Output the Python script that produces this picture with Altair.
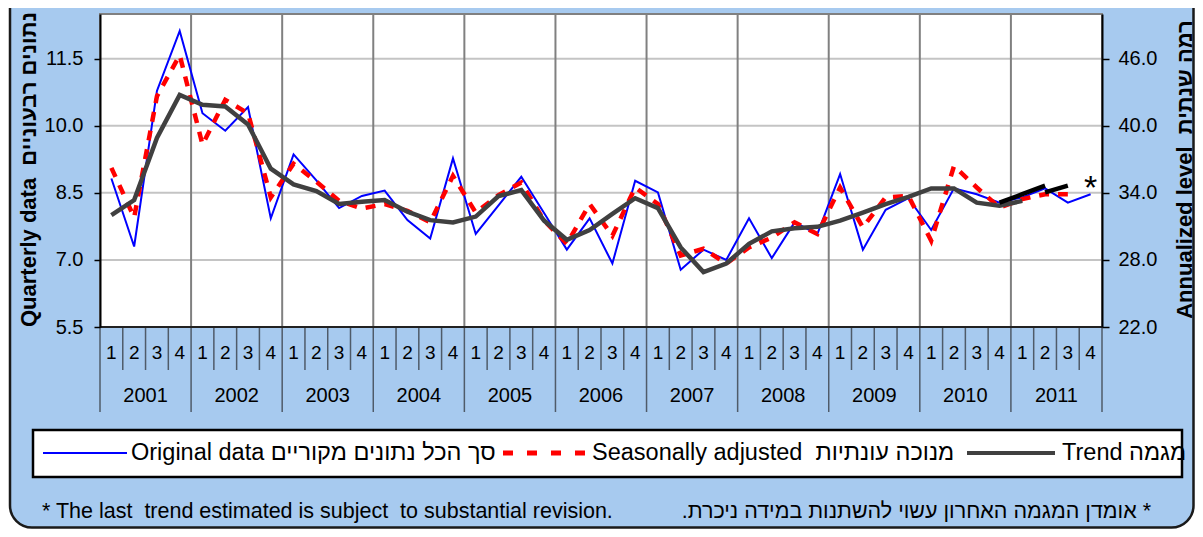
import altair as alt
import pandas as pd

# ---------------- data ----------------
years = [2001, 2002, 2003, 2004, 2005, 2006, 2007, 2008, 2009, 2010, 2011]
quarters = ["1", "2", "3", "4"]

original = [8.82, 7.30, 10.78, 12.12,
            10.28, 9.89, 10.42, 7.93,
            9.36, 8.78, 8.16, 8.43,
            8.55, 7.89, 7.48, 9.27,
            7.58, 8.22, 8.86, 8.05,
            7.23, 7.93, 6.92, 8.77,
            8.51, 6.78, 7.23, 7.00,
            7.93, 7.04, 7.84, 7.58,
            8.92, 7.23, 8.12, 8.38,
            7.67, 8.60, 8.47, 8.28,
            8.40, 8.60, 8.28, 8.47]

seasonal = [9.06, 7.95, 10.66, 11.58,
            9.58, 10.58, 10.28, 8.40,
            9.15, 8.75, 8.32, 8.15,
            8.25, 8.10, 7.84, 8.88,
            8.06, 8.45, 8.73, 7.88,
            7.36, 8.25, 7.54, 8.62,
            8.25, 7.10, 7.25, 6.92,
            7.28, 7.50, 7.84, 7.58,
            8.62, 7.73, 8.40, 8.43,
            7.43, 9.10, 8.62, 8.17,
            8.36, 8.47, 8.47, None]

trend = [8.00, 8.34, 9.73, 10.69,
         10.47, 10.43, 10.03, 9.04,
         8.69, 8.54, 8.25, 8.30,
         8.34, 8.08, 7.89, 7.84,
         7.97, 8.43, 8.56, 7.88,
         7.45, 7.67, 8.03, 8.38,
         8.16, 7.28, 6.73, 6.92,
         7.36, 7.64, 7.71, 7.74,
         7.88, 8.06, 8.25, 8.41,
         8.60, 8.60, 8.28, 8.21,
         8.32, None, None, None]

rev1_keys = ["2010Q4", "2011Q1", "2011Q2"]
rev1_vals = [8.28, 8.47, 8.66]
rev2_keys = ["2011Q2", "2011Q3"]
rev2_vals = [8.51, 8.66]

star_key = "2011Q4"
star_val = 8.66

left_ticks = [5.5, 7.0, 8.5, 10.0, 11.5]
right_ticks = [22.0, 28.0, 34.0, 40.0, 46.0]
grid_ticks = [7.0, 8.5, 10.0, 11.5]

NB = "\u00a0"
left_title = "Quarterly data" + NB + " נתונים רבעוניים"
right_title = "Annualized level" + NB + " רמה שנתית"
legend_texts = ["Original data סך הכל נתונים מקוריים",
                "Seasonally adjusted" + NB + " מנוכה עונתיות",
                "Trend מגמה"]
foot_en = "* The last" + NB + " trend estimated is subject" + NB + " to substantial revision."
foot_he = "\u200f* אומדן המגמה האחרון עשוי להשתנות במידה ניכרת.\u200f"

# ---------------- tables ----------------
keys = [f"{y}Q{q}" for y in years for q in quarters]
pos_of = {k: i + 0.5 for i, k in enumerate(keys)}

df = pd.DataFrame({
    "key": keys,
    "pos": [pos_of[k] for k in keys],
    "quarter": [q for y in years for q in quarters],
    "original": original,
    "seasonal": seasonal,
    "trend": trend,
})
rev1 = pd.DataFrame({"pos": [pos_of[k] for k in rev1_keys], "v": rev1_vals})
rev2 = pd.DataFrame({"pos": [pos_of[k] for k in rev2_keys], "v": rev2_vals})
star = pd.DataFrame({"pos": [pos_of[star_key]], "v": [star_val]})
years_df = pd.DataFrame({"year": [str(y) for y in years],
                         "center": [4 * i + 2 for i in range(len(years))]})
year_bounds = pd.DataFrame({"b": [4 * i for i in range(len(years) + 1)]})
quarter_bounds = pd.DataFrame({"b": [i for i in range(len(keys) + 1) if i % 4 != 0]})
grid_df = pd.DataFrame({"g": grid_ticks})
left_df = pd.DataFrame({"l": left_ticks})
right_df = pd.DataFrame({"r": [t / 4 for t in right_ticks]})
one = pd.DataFrame({"a": [0]})

FONT = "Liberation Sans"
W, H = 1002, 313
BG = "#A7CAEF"

xs = alt.Scale(domain=[0, 44], nice=False, zero=False)
ys = alt.Scale(domain=[5.5, 12.5], nice=False, zero=False)

def X(field):
    return alt.X(field, type="quantitative", scale=xs, axis=None)

def Y(field, axis=None):
    return alt.Y(field, type="quantitative", scale=ys, axis=axis)

base = alt.Chart(df)

bg = alt.Chart(one).mark_rect(
    fill=BG, stroke="#1a1a1a", strokeWidth=2.5, cornerRadius=22
).encode(x=alt.value(-90), x2=alt.value(1093.5), y=alt.value(-40), y2=alt.value(513.5))

plot_bg = alt.Chart(one).mark_rect(
    fill="white", stroke="#808080", strokeWidth=2
).encode(x=alt.value(0), x2=alt.value(W), y=alt.value(0), y2=alt.value(H))

hgrid = alt.Chart(grid_df).mark_rule(color="#C4C4C4", strokeWidth=2).encode(
    y=Y("g"), x=alt.value(0), x2=alt.value(W))

vgrid = alt.Chart(year_bounds).mark_rule(color="#808080", strokeWidth=2).encode(
    x=X("b"), y=alt.value(0), y2=alt.value(H))

year_sep = alt.Chart(year_bounds).mark_rule(color="#4F5B69", strokeWidth=1.5).encode(
    x=X("b"), y=alt.value(H), y2=alt.value(398))
q_sep = alt.Chart(quarter_bounds).mark_rule(color="#4F5B69", strokeWidth=1.5).encode(
    x=X("b"), y=alt.value(H), y2=alt.value(356))

q_labels = base.mark_text(font=FONT, fontSize=19, color="black", baseline="middle").encode(
    x=X("pos"), y=alt.value(339), text="quarter:N")
y_labels = alt.Chart(years_df).mark_text(font=FONT, fontSize=20, color="black", baseline="middle").encode(
    x=X("center"), y=alt.value(382), text="year:N")

bottom_line = alt.Chart(one).mark_rule(color="#222222", strokeWidth=2).encode(
    x=alt.value(0), x2=alt.value(W), y=alt.value(H))

leg_box = alt.Chart(one).mark_rect(
    fill="white", stroke="black", strokeWidth=2.5
).encode(x=alt.value(-67), x2=alt.value(1082), y=alt.value(416), y2=alt.value(463))
leg_y = 439
leg_l1 = alt.Chart(one).mark_rule(color="#0000FF", strokeWidth=2).encode(
    x=alt.value(-57), x2=alt.value(27), y=alt.value(leg_y))
leg_l2 = alt.Chart(one).mark_rule(color="#FF0000", strokeWidth=5, strokeDash=[10, 14]).encode(
    x=alt.value(403), x2=alt.value(485), y=alt.value(leg_y))
leg_l3 = alt.Chart(one).mark_rule(color="#404040", strokeWidth=4).encode(
    x=alt.value(867), x2=alt.value(955), y=alt.value(leg_y))

def label(txt, x, y, size, align="left"):
    return alt.Chart(pd.DataFrame({"t": [txt]})).mark_text(
        font=FONT, fontSize=size, align=align, baseline="middle", color="black"
    ).encode(x=alt.value(x), y=alt.value(y), text="t:N")

leg_t = [label(legend_texts[0], 31, leg_y, 23.5),
         label(legend_texts[1], 492, leg_y, 23.5),
         label(legend_texts[2], 962, leg_y, 23.5)]
foot1 = label(foot_en, -58, 498, 21.5)
foot2 = label(foot_he, 1051, 498, 21.5, align="right")

common_axis = dict(grid=False, domainColor="black", domainWidth=2, tickColor="black", tickWidth=1.5,
                   labelFont=FONT, labelFontSize=20, labelColor="black",
                   titleFont=FONT, titleFontSize=22, titleFontWeight="bold", titleColor="black",
                   titleAngle=270, titleY=155, titleAlign="center", titleBaseline="middle",
                   zindex=1)
left_axis = alt.Axis(orient="left", values=left_ticks, format=".1f", title=left_title,
                     tickSize=6, labelPadding=11, titleX=-72, **common_axis)
right_axis = alt.Axis(orient="right", values=[t / 4 for t in right_ticks],
                      labelExpr="format(datum.value * 4, '.1f')", title=right_title,
                      tickSize=7, labelPadding=9, titleX=82, **common_axis)

l_orig = base.mark_line(color="#0000FF", strokeWidth=2).encode(x=X("pos"), y=Y("original"))
l_seas = base.mark_line(color="#FF0000", strokeWidth=4.5, strokeDash=[10, 9]).encode(
    x=X("pos"), y=Y("seasonal"))
l_trend = base.mark_line(color="#404040", strokeWidth=4.5).encode(x=X("pos"), y=Y("trend"))
l_rev1 = alt.Chart(rev1).mark_line(color="black", strokeWidth=4.5).encode(x=X("pos"), y=Y("v"))
l_rev2 = alt.Chart(rev2).mark_line(color="black", strokeWidth=4.5).encode(x=X("pos"), y=Y("v"))
star_m = alt.Chart(star).mark_text(text="*", font=FONT, fontSize=34, color="black", dy=3).encode(
    x=X("pos"), y=Y("v"))
left_m = alt.Chart(left_df).mark_point(opacity=0).encode(
    x=alt.value(0), y=Y("l", left_axis))
right_m = alt.Chart(right_df).mark_point(opacity=0).encode(
    x=alt.value(W), y=Y("r", right_axis))

chart = alt.layer(bg, plot_bg, hgrid, vgrid, year_sep, q_sep, q_labels, y_labels,
                  leg_box, leg_l1, leg_l2, leg_l3, *leg_t, foot1, foot2,
                  l_orig, l_seas, l_trend, l_rev1, l_rev2, star_m, bottom_line, left_m, right_m
).resolve_axis(y="independent").properties(
    width=W, height=H,
    padding={"left": 92, "top": 6, "right": 93, "bottom": 202},
    autosize=alt.AutoSizeParams(type="none"),
).configure(background="white", font=FONT).configure_view(strokeWidth=0)

chart.save("out.html", embed_options={"renderer": "svg", "actions": False})
